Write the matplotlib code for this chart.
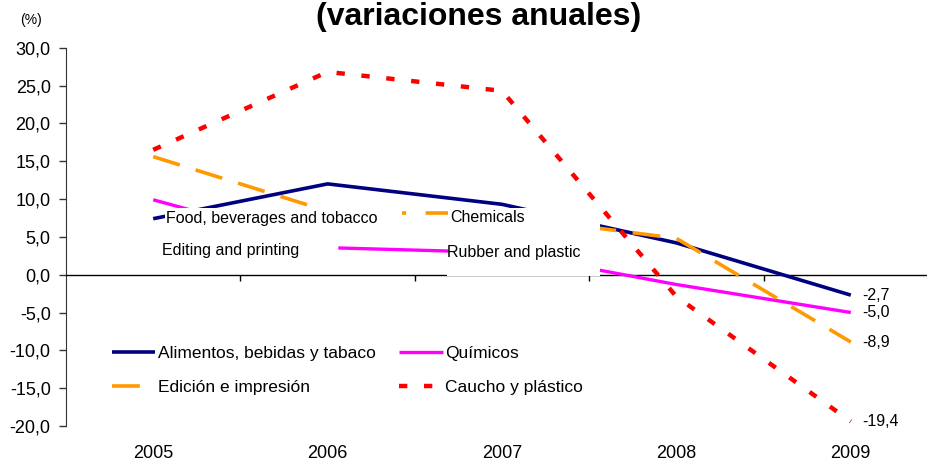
import matplotlib
matplotlib.use("Agg")
import matplotlib.pyplot as plt
from matplotlib.lines import Line2D
from matplotlib.patches import Rectangle
from matplotlib.ticker import FuncFormatter, MultipleLocator

plt.rcParams['font.family'] = ['Liberation Sans', 'DejaVu Sans']
plt.rcParams['lines.scale_dashes'] = False

# ---- data ----
years = ['2005', '2006', '2007', '2008', '2009']
alimentos = [7.4, 12.0, 9.3, 4.2, -2.7]
quimicos = [9.9, 3.6, 3.0, -1.3, -5.0]
edicion = [15.6, 8.4, 7.8, 4.8, -8.9]
caucho = [16.5, 26.8, 24.3, -2.9, -19.4]

labels_es = ['Alimentos, bebidas y tabaco', 'Edición e impresión', 'Químicos', 'Caucho y plástico']
labels_en = ['Food, beverages and tobacco', 'Chemicals', 'Editing and printing', 'Rubber and plastic']
title = '(variaciones anuales)'
unit = '(%)'

W, H = 927, 462
fig = plt.figure(figsize=(W / 100, H / 100), dpi=100)


def fx(px):
    return px / W


def fy(py):
    return 1 - py / H


ax = fig.add_axes([fx(66), fy(426), (938 - 66) / W, (426 - 47.7) / H])

x = list(range(len(years)))
NAVY, MAG, ORA, RED = '#000080', '#FF00FF', '#FF9900', '#FF0000'
l_al, = ax.plot(x, alimentos, color=NAVY, lw=2.6, solid_capstyle='butt', zorder=3)
l_qu, = ax.plot(x, quimicos, color=MAG, lw=2.4, solid_capstyle='butt', zorder=3)
l_ed, = ax.plot(x, edicion, color=ORA, lw=2.6, dashes=(20, 12), dash_capstyle='butt', zorder=4)
l_ca, = ax.plot(x, caucho, color=RED, lw=3.2, dashes=(6, 12), dash_capstyle='butt', zorder=5)

for vals in (alimentos, quimicos, edicion, caucho):
    v = vals[-1]
    ax.annotate(f'{v:.1f}'.replace('.', ','), xy=(x[-1], v), xytext=(8, 0),
                textcoords='offset points', va='center', ha='left', fontsize=11.5)

ax.set_xlim(-0.5, len(years) - 0.5)
ax.set_ylim(-20, 30)
ax.yaxis.set_major_locator(MultipleLocator(5))
ax.yaxis.set_major_formatter(FuncFormatter(lambda v, p: f'{v:.1f}'.replace('.', ',')))
ax.tick_params(axis='y', direction='out', length=5, width=1, color='#333333', labelsize=13, pad=6)
for s in ('top', 'right'):
    ax.spines[s].set_visible(False)
ax.spines['left'].set_color('#333333')
ax.spines['bottom'].set_position(('data', 0))
ax.spines['bottom'].set_color('black')
ax.spines['bottom'].set_linewidth(1.0)
ax.set_xticks([i + 0.5 for i in x])
ax.set_xticklabels([])
ax.tick_params(axis='x', direction='out', length=4, width=1, color='black')
for i, yr in zip(x, years):
    ax.annotate(yr, xy=(i, 0), xycoords=('data', 'axes fraction'), xytext=(0, -19.5),
                textcoords='offset points', ha='center', va='center', fontsize=13)

leg = ax.legend([l_al, l_ed, l_qu, l_ca], labels_es, ncol=2, loc='center left',
                bbox_to_anchor=(fx(112), fy(370.5)), bbox_transform=fig.transFigure,
                frameon=False, borderpad=0, borderaxespad=0, handlelength=2.5,
                handletextpad=0.15, columnspacing=1.35, labelspacing=1.05, fontsize=12.5)

# title and unit
fig.text(fx(479), fy(25), title, ha='center', va='baseline', fontsize=23, fontweight='bold')
fig.text(fx(20), fy(20), unit, ha='left', va='center', fontsize=10)

# overlaid english legend box (white background)
fig.patches.append(Rectangle((fx(165), fy(272)), (447 - 165) / W, (272 - 208) / H,
                             transform=fig.transFigure, facecolor='white', edgecolor='none', zorder=5))
fig.patches.append(Rectangle((fx(447), fy(276)), (600 - 447) / W, (276 - 208) / H,
                             transform=fig.transFigure, facecolor='white', edgecolor='none', zorder=5))
fig.lines.append(Line2D([fx(402), fx(448)], [fy(213), fy(213)], transform=fig.transFigure,
                        color=ORA, lw=2.6, dashes=(3, 14, 20, 10), dash_capstyle='butt', zorder=6))
fig.lines.append(Line2D([fx(340), fx(447)], [fy(248), fy(251)], transform=fig.transFigure,
                        color=MAG, lw=2.4, zorder=6))
en_pos = [(166, 218), (450, 218), (162, 250), (447, 252)]
for (px, py), t in zip(en_pos, labels_en):
    fig.text(fx(px), fy(py), t, ha='left', va='center', fontsize=11.5, zorder=7)

fig.savefig('out.png', dpi=100)
